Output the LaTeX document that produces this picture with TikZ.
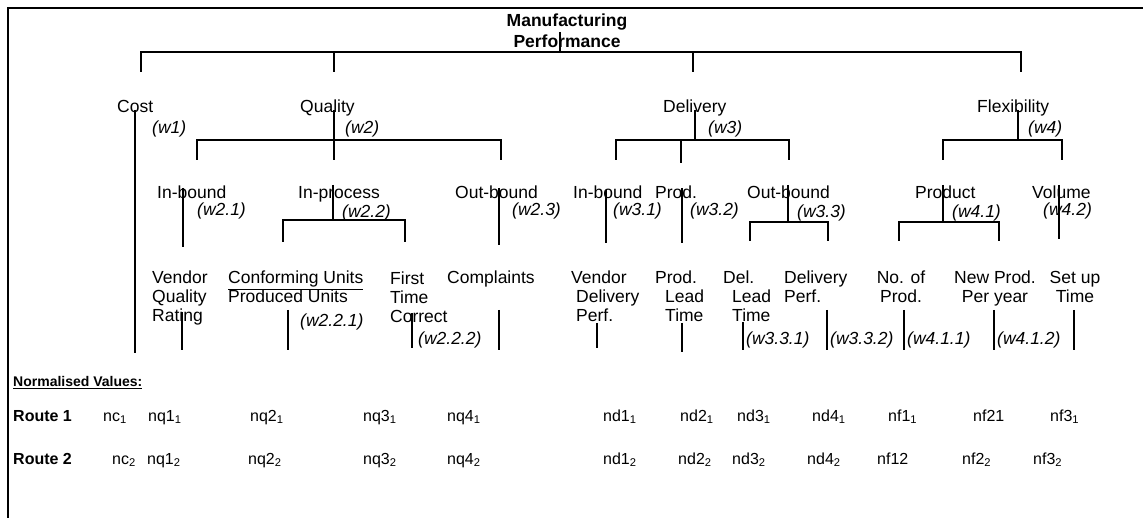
\documentclass[tikz,border=0pt]{standalone}
\usepackage{fontspec}
\setmainfont{Liberation Sans}
\begin{document}
\begin{tikzpicture}[x=1pt,y=-1pt,
  tl/.style={inner sep=0pt, anchor=base west, font=\fontsize{17.5}{19}\selectfont},
  wl/.style={inner sep=0pt, anchor=base west, font=\fontsize{17.5}{19}\selectfont\itshape},
  rv/.style={inner sep=0pt, anchor=base west, font=\fontsize{16}{19}\selectfont},
  rl/.style={inner sep=0pt, anchor=base west, font=\fontsize{16}{19}\selectfont\bfseries},
  ln/.style={line width=2.9pt, line join=miter},
  fr/.style={line width=2.4pt},
]
\useasboundingbox (0,0) rectangle (1143,518);
% frame
\coordinate (fr-tl) at (8,8);
\coordinate (fr-tr) at (1143,8);
\coordinate (fr-bl) at (8,518);
\draw[fr] (fr-tr) -- (fr-tl) -- (fr-bl);

% brackets
\foreach \nm/\xl/\xr/\yh/\yd in {top/141/1021/52/72, qb/197/501/140/160, db/616/789/140/160,
  fb/943/1062/140/160, ipb/283/405/220/242, obb/750/828/222/241, prb/899/999/222/241}{
  \coordinate (\nm-l) at (\xl,\yd);
  \coordinate (\nm-lc) at (\xl,\yh);
  \coordinate (\nm-rc) at (\xr,\yh);
  \coordinate (\nm-r) at (\xr,\yd);
  \draw[ln] (\nm-l) -- (\nm-lc) -- (\nm-rc) -- (\nm-r);
}

% stems
\foreach \nm/\xx/\ya/\yb in {root/560/32/52, topq/334/52/72, topd/693/52/72,
  cost/135/110/353, qual/334/110/160, deliv/695/110/140, dprod/681/140/163, flex/1018/110/140,
  ib/183/188/247, ip/333/185/220, ob/499/188/245, ibd/606/190/243, prd/682/188/243,
  obd/788/185/222, prod/943/185/222, vol/1059/185/239,
  vqr/182/312/350, cu/288/310/350, ftc/412/313/348, cmp/499/310/350,
  vdp/597/323/348, plt/682/323/352, dlt/743/322/350, dp/827/310/350,
  nop/904/310/350, npy/994/310/350, sut/1074/310/350}{
  \coordinate (\nm-t) at (\xx,\ya);
  \coordinate (\nm-b) at (\xx,\yb);
  \draw[ln] (\nm-t) -- (\nm-b);
}

% root (base anchor = baseline of last line)
\node[inner sep=0pt, anchor=base, align=center, font=\fontsize{17.5}{21}\selectfont\bfseries] (mp) at (567,48) {Manufacturing\\Performance};

% level 2
\node[tl] (costn) at (117,113) {Cost};
\node[tl] (qualn) at (300,113) {Quality};
\node[tl] (delivn) at (663,113) {Delivery};
\node[tl] (flexn) at (977,113) {Flexibility};
\node[wl] (w1) at (152,134) {(w1)};
\node[wl] (w2) at (345,134) {(w2)};
\node[wl] (w3) at (708,134) {(w3)};
\node[wl] (w4) at (1028,134) {(w4)};

% level 3
\node[tl] (ibn) at (157,199) {In-bound};
\node[tl] (ipn) at (298,199) {In-process};
\node[tl] (obn) at (455,199) {Out-bound};
\node[tl] (ibdn) at (573,199) {In-bound};
\node[tl] (prdn) at (655,199) {Prod.};
\node[tl] (obdn) at (747,199) {Out-bound};
\node[tl] (prodn) at (915,199) {Product};
\node[tl] (voln) at (1032,199) {Volume};
\node[wl] (w21) at (197,216) {(w2.1)};
\node[wl] (w22) at (342,218) {(w2.2)};
\node[wl] (w23) at (512,216) {(w2.3)};
\node[wl] (w31) at (613,216) {(w3.1)};
\node[wl] (w32) at (690,216) {(w3.2)};
\node[wl] (w33) at (797,218) {(w3.3)};
\node[wl] (w41) at (952,218) {(w4.1)};
\node[wl] (w42) at (1043,216) {(w4.2)};

% level 4 (base anchor = baseline of last line)
\node[tl, align=left] (vqrn) at (152,322) {Vendor\\Quality\\Rating};
\node[tl, align=left] (cun) at (228,303) {\underline{Conforming Units}\\Produced Units};
\node[tl, align=left] (ftcn) at (390,323) {First\\Time\\Correct};
\node[tl] (cmpn) at (447,284) {Complaints};
\node[tl, align=left] (vdpn) at (571,322) {Vendor\\\hspace*{5pt}Delivery\\\hspace*{5pt}Perf.};
\node[tl, align=left] (pltn) at (655,322) {Prod.\\\hspace*{10pt}Lead\\\hspace*{10pt}Time};
\node[tl, align=left] (dltn) at (723,322) {Del.\\\hspace*{9pt}Lead\\\hspace*{9pt}Time};
\node[tl, align=left] (dpn) at (784,303) {Delivery\\Perf.};
\node[tl, align=center, anchor=base] (nopn) at (901,303) {No. of\\Prod.};
\node[tl, align=center, anchor=base] (npyn) at (995,303) {New Prod.\\Per year};
\node[tl, align=center, anchor=base] (sutn) at (1075,303) {Set up\\Time};
\node[wl] (w221) at (300,327) {(w2.2.1)};
\node[wl] (w222) at (418,345) {(w2.2.2)};
\node[wl] (w331) at (746,345) {(w3.3.1)};
\node[wl] (w332) at (830,345) {(w3.3.2)};
\node[wl] (w411) at (907,345) {(w4.1.1)};
\node[wl] (w412) at (997,345) {(w4.1.2)};

% normalised values
\node[inner sep=0pt, anchor=base west, font=\fontsize{14}{16}\selectfont\bfseries] (norm) at (13,387) {\underline{Normalised Values:}};
\node[rl] (r1) at (13,421) {Route 1};
\node[rl] (r2) at (13,464) {Route 2};
\foreach \nm/\xx/\tx in {a1/103/nc\textsubscript{1}, b1/148/nq1\textsubscript{1}, c1/250/nq2\textsubscript{1},
  d1/363/nq3\textsubscript{1}, e1/447/nq4\textsubscript{1}, f1/603/nd1\textsubscript{1},
  g1/680/nd2\textsubscript{1}, h1/737/nd3\textsubscript{1}, i1/812/nd4\textsubscript{1},
  j1/888/nf1\textsubscript{1}, k1/973/nf21, l1/1050/nf3\textsubscript{1}}{
  \node[rv] (v-\nm) at (\xx,421) {\tx};
}
\foreach \nm/\xx/\tx in {a2/112/nc\textsubscript{2}, b2/147/nq1\textsubscript{2}, c2/248/nq2\textsubscript{2},
  d2/363/nq3\textsubscript{2}, e2/447/nq4\textsubscript{2}, f2/603/nd1\textsubscript{2},
  g2/678/nd2\textsubscript{2}, h2/732/nd3\textsubscript{2}, i2/807/nd4\textsubscript{2},
  j2/877/nf12, k2/962/nf2\textsubscript{2}, l2/1033/nf3\textsubscript{2}}{
  \node[rv] (v-\nm) at (\xx,464) {\tx};
}
\end{tikzpicture}
\end{document}
